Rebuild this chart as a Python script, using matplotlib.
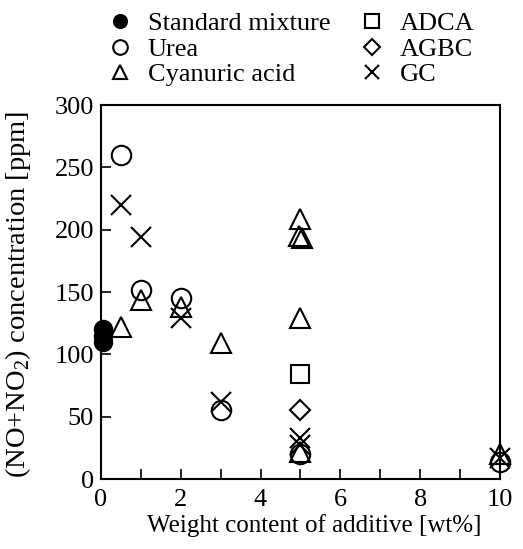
import matplotlib
matplotlib.use("Agg")
import matplotlib.pyplot as plt
from matplotlib.ticker import MultipleLocator

plt.rcParams["font.family"] = ["Liberation Serif", "DejaVu Serif"]
plt.rcParams["mathtext.fontset"] = "custom"
plt.rcParams["mathtext.rm"] = "Liberation Serif"

# data
std_x = [0.05, 0.05, 0.05]
std_y = [120, 115, 110]

urea_x = [0.5, 1.0, 2.0, 3.0, 5.0, 10.0]
urea_y = [260, 152, 145, 55, 20, 14]

cyan_x = [0.5, 1.0, 2.0, 3.0, 5.0, 4.97, 5.03, 5.0, 5.0, 10.0]
cyan_y = [122, 144, 138, 109, 209, 195, 193, 129, 22, 20]

adca_x = [5.0]
adca_y = [84]

agbc_x = [5.0]
agbc_y = [55]

gc_x = [0.5, 1.0, 2.0, 3.0, 5.0, 5.0, 10.0]
gc_y = [220, 194, 129, 62, 33, 27, 17]

FS = 19

fig = plt.figure(figsize=(5.23, 5.49), dpi=100)
ax = fig.add_axes([0.193, 0.1275, 0.763, 0.681])

common = dict(linestyle="none", clip_on=False, markeredgewidth=1.5,
              markeredgecolor="black")
h_std, = ax.plot(std_x, std_y, marker="o", markersize=12.5,
                 markerfacecolor="black", label="Standard mixture", **common)
h_urea, = ax.plot(urea_x, urea_y, marker="o", markersize=14,
                  markerfacecolor="none", label="Urea", **common)
h_cyan, = ax.plot(cyan_x, cyan_y, marker="^", markersize=14,
                  markerfacecolor="none", label="Cyanuric acid", **common)
h_adca, = ax.plot(adca_x, adca_y, marker="s", markersize=13,
                  markerfacecolor="none", label="ADCA", **common)
h_agbc, = ax.plot(agbc_x, agbc_y, marker="D", markersize=10.5,
                  markerfacecolor="none", label="AGBC", **common)
h_gc, = ax.plot(gc_x, gc_y, marker="x", markersize=14,
                markerfacecolor="none", label="GC", **common)

ax.set_xlim(0, 10)
ax.set_ylim(0, 300)
ax.xaxis.set_major_locator(MultipleLocator(2))
ax.xaxis.set_minor_locator(MultipleLocator(1))
ax.yaxis.set_major_locator(MultipleLocator(50))
ax.tick_params(which="both", direction="in", top=False, right=False,
               labelsize=FS, width=1.2, length=7)
ax.tick_params(axis="x", which="major", pad=7)
ax.tick_params(axis="y", which="major", pad=5)
for s in ax.spines.values():
    s.set_linewidth(1.5)

ax.set_xlabel("Weight content of additive [wt%]", fontsize=18)
ax.set_ylabel("(NO+NO$_2$) concentration [ppm]", fontsize=20.5)
ax.xaxis.set_label_coords(0.534, -0.093)
ax.yaxis.set_label_coords(-0.17, 0.495)

leg = ax.legend(handles=[h_std, h_urea, h_cyan, h_adca, h_agbc, h_gc],
                ncol=2, loc="lower left", bbox_to_anchor=(0.021, 1.05),
                frameon=False, fontsize=FS, markerscale=0.75,
                handlelength=0.8, handletextpad=0.65, labelspacing=0.08,
                columnspacing=1.2, borderaxespad=0.0, borderpad=0.0)

fig.savefig("out.png", dpi=100)
